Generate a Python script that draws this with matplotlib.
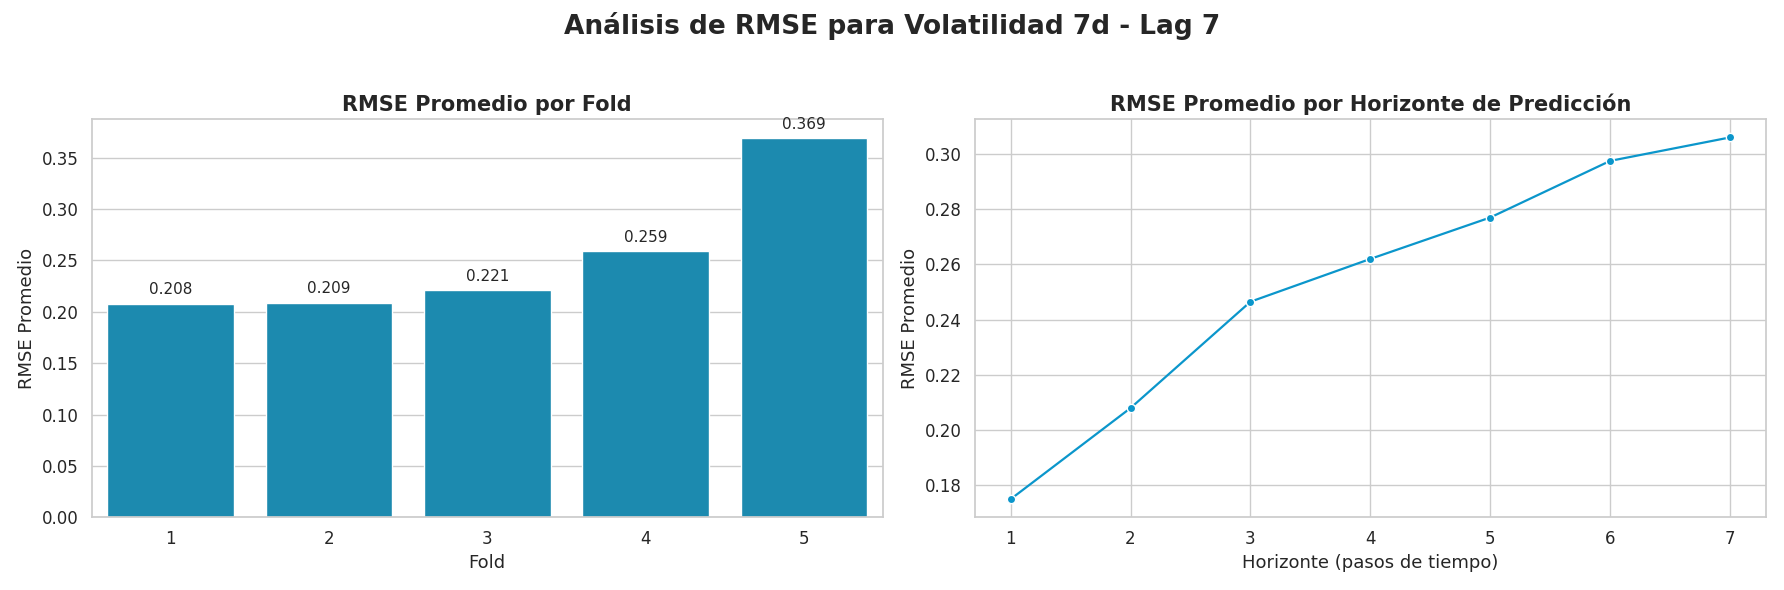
import matplotlib
matplotlib.use("Agg")
import matplotlib.pyplot as plt
import seaborn as sns

folds = [1, 2, 3, 4, 5]
rmse_fold = [0.208, 0.209, 0.221, 0.259, 0.369]
horizons = [1, 2, 3, 4, 5, 6, 7]
rmse_horizon = [0.175, 0.208, 0.2465, 0.262, 0.277, 0.2975, 0.306]

sns.set_theme(style="whitegrid")
plt.rcParams.update({"xtick.labelsize": 12, "ytick.labelsize": 12, "axes.labelsize": 13})

fig, (ax1, ax2) = plt.subplots(1, 2, figsize=(17.84, 5.9), dpi=100)

bars = ax1.bar(range(len(folds)), rmse_fold, color="#1c8aaf", width=0.8)
ax1.set_xticks(range(len(folds)))
ax1.set_xticklabels([str(f) for f in folds])
ax1.set_xlim(-0.5, len(folds) - 0.5)
for b, v in zip(bars, rmse_fold):
    ax1.text(b.get_x() + b.get_width() / 2, v + 0.006, f"{v:.3f}",
             ha="center", va="bottom", fontsize=11)
ax1.set_title("RMSE Promedio por Fold", fontsize=15, fontweight="bold")
ax1.set_xlabel("Fold")
ax1.set_ylabel("RMSE Promedio")
ax1.grid(axis="x", visible=False)

ax2.plot(horizons, rmse_horizon, color="#0b96cb", marker="o", markersize=6,
         markeredgecolor="white", linewidth=1.6)
ax2.set_title("RMSE Promedio por Horizonte de Predicción", fontsize=15, fontweight="bold")
ax2.set_xlabel("Horizonte (pasos de tiempo)")
ax2.set_ylabel("RMSE Promedio")
ax2.set_xticks(horizons)

fig.suptitle("Análisis de RMSE para Volatilidad 7d - Lag 7", fontsize=19, fontweight="bold")
fig.tight_layout(rect=[0, 0, 1, 0.95])
fig.savefig("out.png")
